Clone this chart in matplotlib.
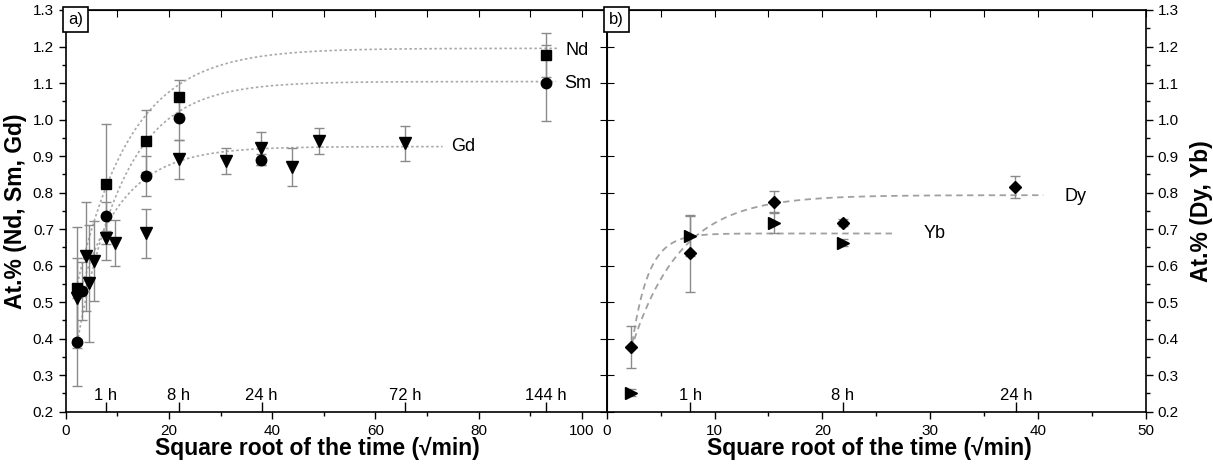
import numpy as np
import matplotlib
matplotlib.use("Agg")
import matplotlib.pyplot as plt
from matplotlib.ticker import MultipleLocator

plt.rcParams["font.family"] = ["Liberation Sans", "DejaVu Sans"]

# panel a) data: sqrt(min), at.%, error
nd_x = [2.24, 7.75, 15.5, 21.9, 92.95]
nd_y = [0.54, 0.823, 0.942, 1.062, 1.177]
nd_err = [0.165, 0.165, 0.085, 0.047, 0.06]

sm_x = [2.24, 3.16, 7.75, 15.5, 21.9, 37.9, 92.95]
sm_y = [0.39, 0.53, 0.735, 0.846, 1.005, 0.89, 1.10]
sm_err = [0.12, 0.08, 0.04, 0.055, 0.06, 0.015, 0.105]

gd_x = [2.24, 3.87, 4.47, 5.48, 7.75, 9.49, 15.5, 21.9, 31.0, 37.9, 43.8, 49.0, 65.7]
gd_y = [0.51, 0.625, 0.552, 0.613, 0.675, 0.663, 0.688, 0.891, 0.886, 0.921, 0.871, 0.941, 0.935]
gd_err = [0.11, 0.15, 0.16, 0.11, 0.06, 0.063, 0.068, 0.053, 0.035, 0.045, 0.052, 0.035, 0.048]

# panel b) data
dy_x = [2.24, 7.75, 15.5, 21.9, 37.9]
dy_y = [0.378, 0.634, 0.775, 0.718, 0.815]
dy_err = [0.058, 0.105, 0.03, 0.01, 0.03]

yb_x = [2.24, 7.75, 15.5, 21.9]
yb_y = [0.252, 0.68, 0.718, 0.663]
yb_err = [0.01, 0.055, 0.03, 0.01]

# fit parameters: plateau, start value, rate, x range
fits_a = {
    "Nd": (1.195, 0.55, 0.095, 2.24, 95.5),
    "Sm": (1.104, 0.39, 0.11, 2.24, 95.0),
    "Gd": (0.926, 0.50, 0.12, 2.24, 73.0),
}
fits_b = {
    "Dy": (0.793, 0.37, 0.22, 2.24, 40.5),
    "Yb": (0.688, 0.36, 0.66, 2.24, 26.5),
}

# label anchors for the curves
labels_a = {"Nd": (96.8, 1.19), "Sm": (96.6, 1.10), "Gd": (74.7, 0.925)}
labels_b = {"Dy": (42.5, 0.79), "Yb": (29.4, 0.688)}

hours_a = [1, 8, 24, 72, 144]
hours_b = [1, 8, 24]


def fit_curve(plateau, y0, k, x0, x1):
    xs = np.linspace(x0, x1, 300)
    return xs, plateau - (plateau - y0) * np.exp(-k * (xs - x0))


def series(ax, x, y, err, marker, ms=7):
    ax.errorbar(x, y, yerr=err, fmt=marker, color="black", ms=ms,
                ecolor="#8a8a8a", elinewidth=1.0, capsize=3.5, capthick=1.0, zorder=3)


def time_axis(ax, hours):
    sec = ax.secondary_xaxis("bottom")
    sec.set_xticks(np.sqrt(np.array(hours) * 60.0), [f"{h} h" for h in hours])
    sec.tick_params(direction="in", length=7, width=1.0, pad=-17, labelsize=12)
    sec.spines["bottom"].set_visible(False)


fig = plt.figure(figsize=(12.13, 4.71), dpi=100)
ax1 = fig.add_axes([0.0542, 0.1259, 0.4460, 0.8529])
ax2 = fig.add_axes([0.5002, 0.1259, 0.4443, 0.8529])

# ---- panel a
for name, p in fits_a.items():
    xs, ys = fit_curve(*p)
    ax1.plot(xs, ys, ls=(0, (1.5, 1.5)), color="#a8a8a8", lw=1.2, zorder=1)
series(ax1, nd_x, nd_y, nd_err, "s", 6.5)
series(ax1, sm_x, sm_y, sm_err, "o", 7.5)
series(ax1, gd_x, gd_y, gd_err, "v", 8.5)
for name, (tx, ty) in labels_a.items():
    ax1.text(tx, ty, name, fontsize=13, va="center", ha="left")

ax1.set_xlim(0, 104.8)
ax1.set_ylim(0.2, 1.3)
ax1.xaxis.set_major_locator(MultipleLocator(20))
ax1.xaxis.set_minor_locator(MultipleLocator(10))
ax1.yaxis.set_major_locator(MultipleLocator(0.1))
ax1.yaxis.set_minor_locator(MultipleLocator(0.05))
ax1.yaxis.set_major_formatter(plt.FormatStrFormatter("%.1f"))
ax1.tick_params(axis="both", which="major", direction="out", length=5, width=1, labelsize=11)
ax1.tick_params(axis="both", which="minor", direction="out", length=3, width=1)
ax1.set_xlabel("Square root of the time (\u221amin)", fontsize=16.5, fontweight="bold", labelpad=1)
ax1.xaxis.set_label_coords(0.465, -0.062)
ax1.set_ylabel("At.% (Nd, Sm, Gd)", fontsize=16.5, fontweight="bold", labelpad=4)
top1 = ax1.secondary_xaxis("top")
top1.xaxis.set_major_locator(MultipleLocator(10))
top1.tick_params(direction="in", length=5, labeltop=False)
right1 = ax1.secondary_yaxis("right")
right1.yaxis.set_major_locator(MultipleLocator(0.1))
right1.tick_params(direction="in", length=5, labelright=False)
time_axis(ax1, hours_a)
ax1.text(0.004, 0.994, "a)", transform=ax1.transAxes, fontsize=12, va="top", ha="left",
         bbox=dict(boxstyle="square,pad=0.3", fc="white", ec="black", lw=1.2))

# ---- panel b
for name, p in fits_b.items():
    xs, ys = fit_curve(*p)
    ax2.plot(xs, ys, ls=(0, (3.5, 2.5)), color="#a0a0a0", lw=1.3, zorder=1)
series(ax2, dy_x, dy_y, dy_err, "D", 6.5)
series(ax2, yb_x, yb_y, yb_err, ">", 8)
for name, (tx, ty) in labels_b.items():
    ax2.text(tx, ty, name, fontsize=13, va="center", ha="left")

ax2.set_xlim(0, 50)
ax2.set_ylim(0.2, 1.3)
ax2.xaxis.set_major_locator(MultipleLocator(10))
ax2.xaxis.set_minor_locator(MultipleLocator(5))
ax2.yaxis.set_major_locator(MultipleLocator(0.1))
ax2.yaxis.set_minor_locator(MultipleLocator(0.05))
ax2.yaxis.set_major_formatter(plt.FormatStrFormatter("%.1f"))
ax2.yaxis.tick_right()
ax2.yaxis.set_label_position("right")
ax2.tick_params(axis="both", which="major", direction="out", length=5, width=1, labelsize=11)
ax2.tick_params(axis="both", which="minor", direction="out", length=3, width=1)
ax2.set_xlabel("Square root of the time (\u221amin)", fontsize=16.5, fontweight="bold", labelpad=1)
ax2.xaxis.set_label_coords(0.488, -0.062)
ax2.set_ylabel("At.% (Dy, Yb)", fontsize=16.5, fontweight="bold", labelpad=8)
top2 = ax2.secondary_xaxis("top")
top2.xaxis.set_major_locator(MultipleLocator(5))
top2.tick_params(direction="in", length=5, labeltop=False)
left2 = ax2.secondary_yaxis("left")
left2.yaxis.set_major_locator(MultipleLocator(0.1))
left2.tick_params(direction="in", length=5, labelleft=False)
time_axis(ax2, hours_b)
ax2.text(0.004, 0.994, "b)", transform=ax2.transAxes, fontsize=12, va="top", ha="left",
         bbox=dict(boxstyle="square,pad=0.3", fc="white", ec="black", lw=1.2))

for ax in (ax1, ax2):
    for s in ax.spines.values():
        s.set_linewidth(1.2)

fig.savefig("out.png", dpi=100)
